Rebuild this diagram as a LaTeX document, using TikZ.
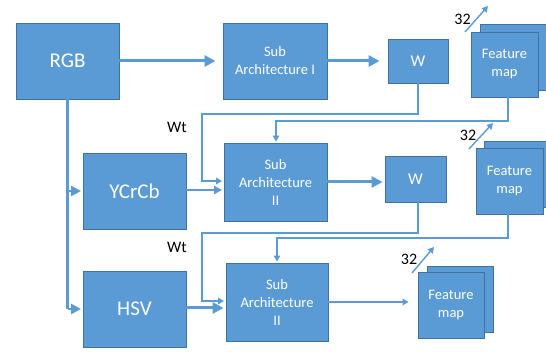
\documentclass[tikz,border=0pt]{standalone}
\usepackage{fontspec}
\setmainfont{Carlito}
\usetikzlibrary{arrows.meta,calc}
\definecolor{boxblue}{HTML}{5B9BD5}
\definecolor{boxedge}{HTML}{41719C}
\definecolor{linkblue}{HTML}{5B9BD5}
\begin{document}
\begin{tikzpicture}[x=1pt,y=-1pt,
  box/.style={draw=boxedge, fill=boxblue, line width=0.9pt, text=white, inner sep=0pt, align=center},
  bigtxt/.style={font=\fontsize{21}{24}\selectfont},
  midtxt/.style={font=\fontsize{14.5}{18}\selectfont},
  wtxt/.style={font=\fontsize{16.5}{18}\selectfont},
  stack/.style={draw=boxedge, fill=boxblue, line width=0.9pt},
  thickarrow/.style={draw=linkblue, line width=3pt, -{Triangle[length=11pt,width=11pt]}},
  medarrow/.style={draw=linkblue, line width=2.6pt, -{Triangle[length=10pt,width=10pt]}},
  semiarrow/.style={draw=linkblue, line width=2pt, -{Triangle[length=8pt,width=8pt]}},
  thinarrow/.style={draw=linkblue, line width=1.4pt, -{Triangle[length=6pt,width=6.5pt]}},
  thinline/.style={draw=linkblue, line width=1.4pt},
  lbl/.style={font=\fontsize{16}{18}\selectfont, text=black, inner sep=0pt}]
\useasboundingbox (0,0) rectangle (546,352);

% boxes
\node[box,bigtxt,minimum width=103pt,minimum height=76pt] (rgb) at (67.5,61) {RGB};
\node[box,midtxt,minimum width=104pt,minimum height=76pt] (subA) at (275,61) {Sub\\Architecture I};
\node[box,wtxt,minimum width=60pt,minimum height=44pt] (wA) at (418,61) {W};
\node[stack,minimum width=66pt,minimum height=66pt] (fmAback) at (513,57) {};
\node[box,midtxt,minimum width=67pt,minimum height=65pt] (fmA) at (504.5,64.5) {Feature\\map};

\node[box,bigtxt,minimum width=103pt,minimum height=76pt] (ycc) at (134.5,191) {YCrCb};
\node[box,midtxt,minimum width=103pt,minimum height=78pt] (subB) at (275.5,182) {Sub\\Architecture\\II};
\node[box,wtxt,minimum width=61pt,minimum height=46pt] (wB) at (415.5,179) {W};
\node[stack,minimum width=66pt,minimum height=66pt] (fmBback) at (517,174.5) {};
\node[box,midtxt,minimum width=67pt,minimum height=66pt] (fmB) at (509.5,181) {Feature\\map};

\node[box,bigtxt,minimum width=103pt,minimum height=76pt] (hsv) at (134.5,309) {HSV};
\node[box,midtxt,minimum width=102pt,minimum height=78pt] (subC) at (277,302) {Sub\\Architecture\\II};
\node[stack,minimum width=66pt,minimum height=66pt] (fmCback) at (460,299) {};
\node[box,midtxt,minimum width=66pt,minimum height=66pt] (fmC) at (451,305) {Feature\\map};

% labels
\node[lbl] (wtA) at (177,127) {Wt};
\node[lbl] (wtB) at (177,247) {Wt};
\node[lbl] (nA) at (462.5,19) {32};
\node[lbl] (nB) at (468,135.5) {32};
\node[lbl] (nC) at (409,259.5) {32};

% main flow
\draw[thickarrow, shorten >=7pt] (rgb.east) -- (subA.west);
\draw[thickarrow, shorten >=8pt] (subA.east) -- (wA.west);
\draw[thickarrow, shorten >=2pt] (subB.east) -- (subB.east -| wB.west);
\draw[thickarrow, shorten >=2pt] ($(hsv.east)+(0,-1)$) -- ($(hsv.east -| subC.west)+(0,-1)$);
\draw[thinarrow, shorten >=9pt] (subC.east) -- (subC.east -| fmC.west);

% RGB branches
\coordinate (trunkB) at (rgb.south |- hsv.west);
\draw[draw=linkblue, line width=2.6pt] (rgb.south) -- (trunkB);
\draw[medarrow, shorten >=1.5pt] (trunkB) -- ($(trunkB -| hsv.west)$);
\draw[medarrow, shorten >=1.5pt] (rgb.south |- ycc.west) -- (ycc.west);
\draw[semiarrow, shorten >=1.5pt] ($(ycc.east)+(0,-1)$) -- ($(ycc.east -| subB.west)+(0,-1)$);

% feedback loops level 1
\coordinate (jA1) at (418,114);
\coordinate (jA2) at (202,114);
\draw[thinarrow, shorten >=1.5pt] (wA.south) -- (jA1) -- (jA2) |- ($(subB.west)+(0,-1)$);
\coordinate (kA1) at (508,97);
\coordinate (kA2) at (508,121);
\coordinate (kA3) at (276,121);
\draw[thinarrow, shorten >=1pt] (kA1) -- (kA2) -- (kA3) -- (subB.north -| kA3);

% feedback loops level 2
\coordinate (jB0) at (418,202);
\coordinate (jB1) at (418,233);
\coordinate (jB2) at (202,233);
\draw[thinarrow, shorten >=1.5pt] (jB0) -- (jB1) -- (jB2) |- ($(subC.west)+(0,-1)$);
\coordinate (kB1) at (508,214);
\coordinate (kB2) at (508,238);
\coordinate (kB3) at (277,238);
\draw[thinarrow, shorten >=1pt] (kB1) -- (kB2) -- (kB3) -- (subC.north -| kB3);

% 32 arrows
\coordinate (aA1) at (465,32);
\coordinate (aA2) at (488,6);
\draw[thinarrow] (aA1) -- (aA2);
\coordinate (aB1) at (469,149);
\coordinate (aB2) at (493,123);
\draw[thinarrow] (aB1) -- (aB2);
\coordinate (aC1) at (412,273);
\coordinate (aC2) at (434,247);
\draw[thinarrow] (aC1) -- (aC2);
\end{tikzpicture}
\end{document}
